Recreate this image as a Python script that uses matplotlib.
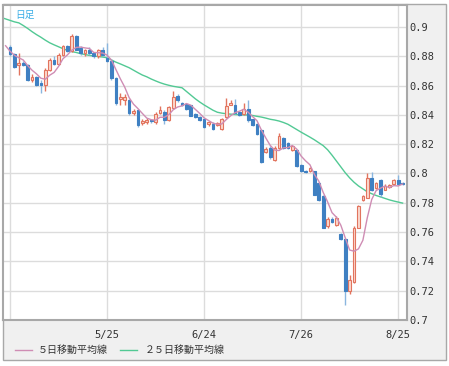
import matplotlib.pyplot as plt
import matplotlib.patches as patches
import numpy as np
import pandas as pd

# daily candles (index = trading day)
opens  = [.8860,.8815,.8738,.8755,.8743,.8640,.8656,.8617,.8606,.8709,
          .8777,.8750,.8811,.8869,.8834,.8937,.8857,.8823,.8840,.8820,
          .8800,.8840,.8790,.8770,.8650,.8510,.8505,.8500,.8410,.8430,
          .8343,.8350,.8362,.8350,.8412,.8418,.8362,.8447,.8530,.8480,
          .8475,.8465,.8405,.8385,.8375,.8335,.8340,.8330,.8305,.8384,
          .8470,.8470,.8418,.8407,.8441,.8370,.8340,.8300,.8150,.8175,
          .8095,.8175,.8241,.8207,.8162,.8160,.8060,.8020,.8015,.8015,
          .7935,.7845,.7640,.7686,.7650,.7585,.7550,.7200,.7256,.7630,
          .7822,.7834,.7970,.7900,.7955,.7890,.7905,.7930,.7955,.7935]
highs  = [.8875,.8825,.8823,.8765,.8748,.8680,.8665,.8640,.8720,.8790,
          .8800,.8820,.8880,.8880,.8950,.8948,.8870,.8850,.8860,.8830,
          .8850,.8860,.8890,.8780,.8660,.8550,.8540,.8510,.8440,.8440,
          .8370,.8380,.8370,.8420,.8460,.8430,.8460,.8560,.8540,.8490,
          .8480,.8470,.8415,.8395,.8380,.8360,.8350,.8350,.8380,.8516,
          .8500,.8510,.8425,.8480,.8500,.8375,.8345,.8305,.8180,.8185,
          .8185,.8275,.8250,.8215,.8190,.8165,.8065,.8025,.8045,.8020,
          .7940,.7850,.7700,.7700,.7710,.7595,.7560,.7310,.7640,.7785,
          .7850,.8000,.8010,.7945,.7965,.7925,.7925,.7960,.7990,.7940]
lows   = [.8805,.8720,.8674,.8735,.8630,.8625,.8595,.8550,.8560,.8697,
          .8740,.8740,.8800,.8830,.8830,.8840,.8810,.8800,.8810,.8790,
          .8790,.8800,.8760,.8640,.8470,.8470,.8470,.8400,.8400,.8320,
          .8330,.8340,.8345,.8340,.8405,.8340,.8355,.8440,.8490,.8460,
          .8435,.8390,.8380,.8355,.8310,.8325,.8300,.8325,.8300,.8380,
          .8465,.8405,.8390,.8400,.8350,.8325,.8265,.8070,.8140,.8100,
          .8085,.8170,.8165,.8165,.8155,.8045,.8010,.8005,.8010,.7850,
          .7815,.7625,.7630,.7665,.7645,.7545,.7100,.7180,.7250,.7625,
          .7815,.7830,.7880,.7895,.7840,.7885,.7900,.7925,.7920,.7920]
closes = [.8815,.8730,.8755,.8743,.8640,.8656,.8606,.8606,.8709,.8777,
          .8750,.8811,.8869,.8839,.8937,.8846,.8823,.8840,.8820,.8800,
          .8840,.8810,.8770,.8650,.8480,.8525,.8525,.8410,.8425,.8330,
          .8360,.8366,.8355,.8407,.8430,.8362,.8452,.8525,.8500,.8470,
          .8440,.8395,.8385,.8362,.8316,.8350,.8305,.8345,.8373,.8464,
          .8480,.8412,.8396,.8441,.8362,.8330,.8270,.8077,.8170,.8110,
          .8173,.8253,.8173,.8173,.8185,.8049,.8015,.8010,.8038,.7856,
          .7822,.7630,.7686,.7670,.7698,.7550,.7200,.7270,.7630,.7777,
          .7845,.7970,.7890,.7935,.7860,.7915,.7920,.7955,.7925,.7925]
prev_closes = [.9000,.8870,.8840,.8820,.8830]

# 25 day average, starts two days before the first candle
ma25 = [.9065,.9055,
        .9045,.9035,.9028,.9010,.8990,.8968,.8948,.8930,.8910,.8892,
        .8878,.8865,.8852,.8840,.8832,.8826,.8818,.8812,.8806,.8802,
        .8798,.8795,.8790,.8775,.8760,.8748,.8735,.8722,.8705,.8688,
        .8672,.8660,.8645,.8632,.8620,.8610,.8602,.8595,.8590,.8585,
        .8560,.8535,.8510,.8488,.8468,.8450,.8432,.8418,.8412,.8408,
        .8405,.8403,.8401,.8400,.8399,.8396,.8390,.8385,.8378,.8370,
        .8365,.8358,.8348,.8336,.8318,.8300,.8282,.8265,.8248,.8230,
        .8210,.8190,.8162,.8125,.8085,.8045,.8005,.7970,.7940,.7915,
        .7895,.7875,.7862,.7850,.7840,.7830,.7820,.7812,.7805,.7798]

tick_idx = [0, 22, 44, 66, 88]
tick_labels = ['', '5/25', '6/24', '7/26', '8/25']
y_ticks = [0.7, 0.72, 0.74, 0.76, 0.78, 0.8, 0.82, 0.84, 0.86, 0.88, 0.9]
y_labels = ['0.7', '0.72', '0.74', '0.76', '0.78', '0.8', '0.82',
            '0.84', '0.86', '0.88', '0.9']

W, H = 449, 366
fig = plt.figure(figsize=(W/100, H/100), dpi=100, facecolor='white')

# grey frame behind everything
fig.patches.append(patches.Rectangle((3/W, 1-360/H), 443/W, 356/H, transform=fig.transFigure,
                                     facecolor='#f0f0f0', edgecolor='#a8a8a8', lw=1, zorder=-10))

ax = fig.add_axes([3/W, 1-320/H, 404/W, 315/H])
ax.set_zorder(1)
ax.set_facecolor('white')

n = len(closes)
x = np.arange(n)
o = np.array(opens); c = np.array(closes)
hi = np.array(highs); lo = np.array(lows)
up = c >= o

red_edge = '#e2745e'
red_fill = '#fbd9cf'
blue = '#3f80c2'
blue_wick = '#8ab6df'

ax.vlines(x[up], lo[up], hi[up], color=red_edge, lw=1, zorder=3)
ax.vlines(x[~up], lo[~up], hi[~up], color=blue_wick, lw=1, zorder=3)
ax.bar(x[up], (c - o)[up], bottom=o[up], width=0.62, color=red_fill,
       edgecolor=red_edge, lw=0.8, zorder=4)
ax.bar(x[~up], (o - c)[~up], bottom=c[~up], width=0.62, color=blue,
       edgecolor=blue, lw=0.8, zorder=4)

# moving averages
all_closes = pd.Series(prev_closes + closes)
ma5 = all_closes.rolling(5).mean().values[len(prev_closes)-2:]
xm = np.arange(-2, n)
ax.plot(xm, ma5, color='#cf8db4', lw=1, zorder=5)
ax.plot(xm, ma25, color='#52c994', lw=1, zorder=2)

ax.set_xlim(-1.59, 90.0)
ax.set_ylim(0.7, 0.915)
ax.set_xticks(tick_idx)
ax.set_xticklabels(tick_labels)
ax.set_yticks(y_ticks)
ax.set_yticklabels(y_labels)
ax.yaxis.tick_right()
ax.tick_params(length=0, labelsize=7.5, colors='#333333')
ax.tick_params(axis='y', pad=2)
ax.tick_params(axis='x', pad=7)
for lab in ax.get_xticklabels() + ax.get_yticklabels():
    lab.set_family('DejaVu Sans Mono')
for lab in ax.get_yticklabels():
    lab.set_horizontalalignment('left')
ax.grid(True, color='#dcdcdc', lw=1)
ax.set_axisbelow(True)
for s in ax.spines.values():
    s.set_color('#a8a8a8')
    s.set_linewidth(1.5)

ax.text(0.03, 0.985, '日足', transform=ax.transAxes, ha='left', va='top',
        fontsize=7, color='#3aaee6', family=['Noto Sans CJK JP', 'DejaVu Sans'])

# legend
ly = 1 - 350/H
fig.add_artist(plt.Line2D([15/W, 32/W], [ly, ly], color='#cf8db4', lw=1))
fig.text(38/W, ly, '５日移動平均線', fontsize=7.2, va='center', color='#333333',
         family=['Noto Sans CJK JP', 'DejaVu Sans'])
fig.add_artist(plt.Line2D([120/W, 137/W], [ly, ly], color='#52c994', lw=1))
fig.text(145/W, ly, '２５日移動平均線', fontsize=7.2, va='center', color='#333333',
         family=['Noto Sans CJK JP', 'DejaVu Sans'])

fig.savefig('out.png', dpi=100, facecolor='white')
